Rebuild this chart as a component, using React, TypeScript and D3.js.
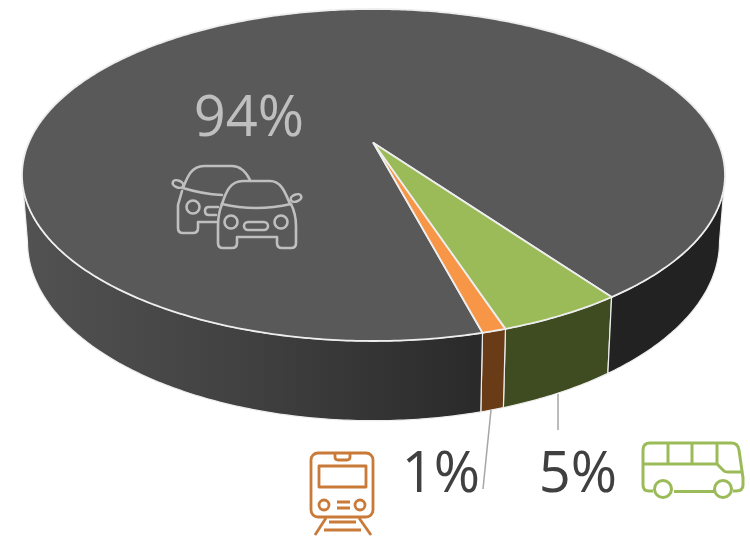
import React from "react";
import * as d3 from "d3";

const modes = ["bus", "train", "car"];
const shares = [4.83, 0.92, 94.25];
const shareLabels = ["5%", "1%", "94%"];

const W = 750, H = 536;
const topFill: Record<string, string> = { bus: "#9bbb59", train: "#f79646", car: "#595959" };
const sideFill: Record<string, string> = { bus: "#3f4b20", train: "#693c17", car: "url(#carSide)" };

const TOP = { cx: 373.5, cy: 175, rx: 351.5, ry: 166 };
const LOW = { cx: 373.5, cy: 241.7, rx: 346, ry: 179 };
const apexY = 143;
const k = (TOP.cy - apexY) / TOP.ry;

// perspective map of a circle angle (d3 convention) onto the normalised ellipse
function project(a: number): [number, number] {
  const u = Math.sin(a), v = -Math.cos(a);
  const d = 1 - k * v;
  return [(u * Math.sqrt(1 - k * k)) / d, (v - k) / d];
}
const at = (e: typeof TOP, a: number): [number, number] => {
  const [X, Y] = project(a);
  return [e.cx + X * e.rx, e.cy + Y * e.ry];
};

const start = (144.4 * Math.PI) / 180;
const arcs = d3.pie<number>().sort(null).startAngle(start).endAngle(start + 2 * Math.PI)(shares);
const line = d3.line();
const sample = (a0: number, a1: number) => {
  const n = Math.max(6, Math.ceil(Math.abs(a1 - a0) * 90));
  return d3.range(n + 1).map((i) => a0 + ((a1 - a0) * i) / n);
};

const topPath = (a0: number, a1: number) =>
  line([[TOP.cx, apexY], ...sample(a0, a1).map((a) => at(TOP, a))])! + "Z";
const sidePath = (a0: number, a1: number) => {
  const s = sample(a0, a1);
  return line([...s.map((a) => at(TOP, a)), ...s.slice().reverse().map((a) => at(LOW, a))])! + "Z";
};

// only the front of the drum is visible: the angles where the rim turns back
const rightTurn = Math.acos(-k);
const leftTurn = 2 * Math.PI - rightTurn;
const sideSpans = (a0: number, a1: number): [number, number][] =>
  a1 - a0 > Math.PI
    ? [[a0, leftTurn], [rightTurn + 2 * Math.PI, a1]]
    : [[a0, a1]];

const edge = "#eeeeee";

function Cars() {
  return (
    <g fill="none" stroke="#bfbfbf" strokeWidth={2.6} strokeLinecap="round" strokeLinejoin="round">
      <path d="M183 188 C187 178 191 166 204 166 L232 166 C241 166 246 172 250 180" />
      <path d="M183 188 Q202 194 222 195" />
      <ellipse cx={178} cy={184} rx={5.5} ry={3.5} transform="rotate(20 178 184)" />
      <path d="M182 191 L178 205 L178 228 Q178 233 183 233 L193 233 Q198 233 198 228 L198 222 L217 222" />
      <circle cx={193} cy={207} r={6.5} />
      <path d="M218 207 L209 207 Q205 207 205 211 Q205 215 209 215 L216 215" />
      <path d="M222 204 C226 192 230 181 243 181 L270 181 C281 181 285 192 290 204" />
      <path d="M222 204 Q256 212 291 204" />
      <ellipse cx={296} cy={198} rx={5.5} ry={3.5} transform="rotate(-20 296 198)" />
      <path d="M222 204 Q218 214 218 226 L218 243 Q218 248 223 248 L232 248 Q237 248 237 243 L237 237 L277 237 L277 243 Q277 248 282 248 L291 248 Q296 248 296 243 L296 226 Q296 214 291 204" />
      <circle cx={231} cy={222} r={6.5} />
      <circle cx={281} cy={222} r={6.5} />
      <rect x={244} y={222} width={24} height={8} rx={4} />
    </g>
  );
}

function Train() {
  return (
    <g fill="none" stroke="#c97a38" strokeWidth={2.8} strokeLinejoin="round">
      <rect x={311} y={453} width={62} height={64} rx={7} />
      <path d="M335 453 L335 457 Q335 460 338 460 L347 460 Q350 460 350 457 L350 453" />
      <rect x={319} y={466} width={47} height={21} />
      <circle cx={324} cy={505} r={5} />
      <circle cx={360} cy={505} r={5} />
      <path d="M337 502 L350 502 M337 508 L350 508" />
      <path d="M326 518 L315 535 M359 518 L371 535 M329 522 L356 522 M324 530 L361 530" />
    </g>
  );
}

function Bus() {
  return (
    <g fill="none" stroke="#9bbb59" strokeWidth={3} strokeLinejoin="round">
      <path d="M653 491 L649 491 Q643 491 643 485 L643 450 Q643 443 650 443 L731 443 Q738 443 739 450 L743 478 L743 485 Q743 491 736 491 L733 491" />
      <path d="M674 491.5 L714 491.5" />
      <circle cx={663} cy={489} r={8.5} />
      <circle cx={723} cy={489} r={8.5} />
      <path d="M643 464 L717 464 L724 471 Q725 472 728 472 L742 472" />
      <path d="M668 443 L668 464 M692 443 L692 464 M717 443 L717 464" />
    </g>
  );
}

export default function App() {
  const [busLabel, trainLabel, carLabel] = shareLabels;
  return (
    <svg width={W} height={H} style={{ position: "absolute", left: 0, top: 0, display: "block", background: "#fff" }}>
      <defs>
        <linearGradient id="carSide" gradientUnits="userSpaceOnUse" x1={22} x2={725} y1={0} y2={0}>
          <stop offset="0" stopColor="#525252" />
          <stop offset="0.33" stopColor="#404040" />
          <stop offset="0.65" stopColor="#2a2a2a" />
          <stop offset="0.85" stopColor="#222222" />
          <stop offset="1" stopColor="#222222" />
        </linearGradient>
      </defs>
      {arcs.map((d, i) =>
        sideSpans(d.startAngle, d.endAngle).map(([a0, a1]) => (
          <path key={modes[i] + a0} d={sidePath(a0, a1)} fill={sideFill[modes[i]]} stroke={edge} strokeWidth={1.2} strokeLinejoin="round" />
        ))
      )}
      {arcs.slice().reverse().map((d, i) => {
        const m = modes[arcs.length - 1 - i];
        return <path key={m} d={topPath(d.startAngle, d.endAngle)} fill={topFill[m]} stroke={edge} strokeWidth={1.8} strokeLinejoin="round" />;
      })}
      <g fontFamily="'Open Sans', sans-serif" fontSize={56}>
        <text x={249} y={136} textAnchor="middle" fill="#bfbfbf">{carLabel}</text>
        <text x={441} y={492} textAnchor="middle" fill="#404040">{trainLabel}</text>
        <text x={578} y={492} textAnchor="middle" fill="#404040">{busLabel}</text>
      </g>
      <Cars />
      <Train />
      <Bus />
      <path d="M491 410 L483 489 M558 394 L558 430" stroke="#a6a6a6" strokeWidth={1.5} fill="none" />
    </svg>
  );
}
